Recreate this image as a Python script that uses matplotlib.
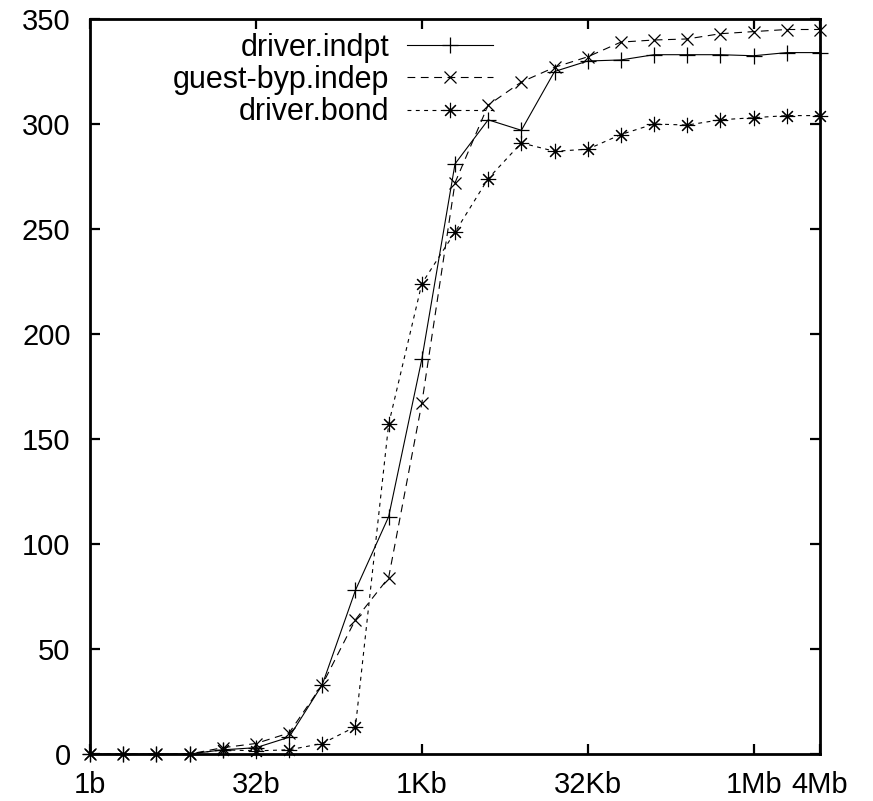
import matplotlib
matplotlib.use("Agg")
import matplotlib.pyplot as plt
import numpy as np

plt.rcParams['font.family'] = ['Liberation Sans', 'DejaVu Sans']

# message sizes: powers of two from 1 byte to 4 MB
sizes = [2 ** i for i in range(23)]

driver_indpt = [0, 0, 0, 0, 2, 3, 8, 33, 78, 113, 188, 281, 302, 297, 325,
                330, 330.5, 333, 333, 333, 332.5, 334, 334]
guest_byp_indep = [0, 0, 0, 0, 3, 5, 10, 33, 64, 84, 167, 272, 309, 320, 327,
                   332, 339, 340, 340.5, 343, 344, 345, 345]
driver_bond = [0, 0, 0, 0, 2, 1.5, 2, 5, 13, 157, 224, 248.5, 274, 291, 287,
               288, 295, 300, 299.5, 302, 303, 304, 304]

labels = ["driver.indpt", "guest-byp.indep", "driver.bond"]
xtick_vals = [1, 32, 1024, 32768, 1048576, 4194304]
xtick_labels = ["1b", "32b", "1Kb", "32Kb", "1Mb", "4Mb"]
ytick_vals = [0, 50, 100, 150, 200, 250, 300, 350]

W, H = 873, 801
fig = plt.figure(figsize=(W / 100, H / 100), dpi=100)
ax = fig.add_axes([90 / W, (H - 754) / H, (820 - 90) / W, (754 - 19) / H])

lw = 0.8
ax.plot(sizes, driver_indpt, color='black', lw=lw, ls='-', marker='+',
        ms=11, mew=0.9, label=labels[0], clip_on=False)
ax.plot(sizes, guest_byp_indep, color='black', lw=lw, ls=(0, (7, 5)),
        marker='x', ms=9, mew=0.9, label=labels[1], clip_on=False)
ax.plot(sizes, driver_bond, color='black', lw=lw, ls=(0, (3.5, 4)),
        marker=(8, 2, 0), ms=11, mew=0.8, label=labels[2], clip_on=False)

ax.set_xscale('log', base=2)
ax.set_xlim(1, 4194304)
ax.set_ylim(0, 350)
ax.set_xticks(xtick_vals)
ax.set_xticklabels(xtick_labels)
ax.set_yticks(ytick_vals)
ax.minorticks_off()

for s in ax.spines.values():
    s.set_linewidth(2.0)
ax.tick_params(direction='in', length=7, width=1.6, top=True, right=True,
               labelsize=21)
ax.tick_params(axis='y', pad=14)
ax.tick_params(axis='x', pad=12)

leg = ax.legend(loc='upper right', bbox_to_anchor=(493 / W, (H - 33) / H),
                bbox_transform=fig.transFigure, frameon=False,
                markerfirst=False, fontsize=22, handlelength=2.8,
                handletextpad=0.6, labelspacing=0.07, borderpad=0,
                borderaxespad=0)

fig.savefig("out.png", dpi=100)
